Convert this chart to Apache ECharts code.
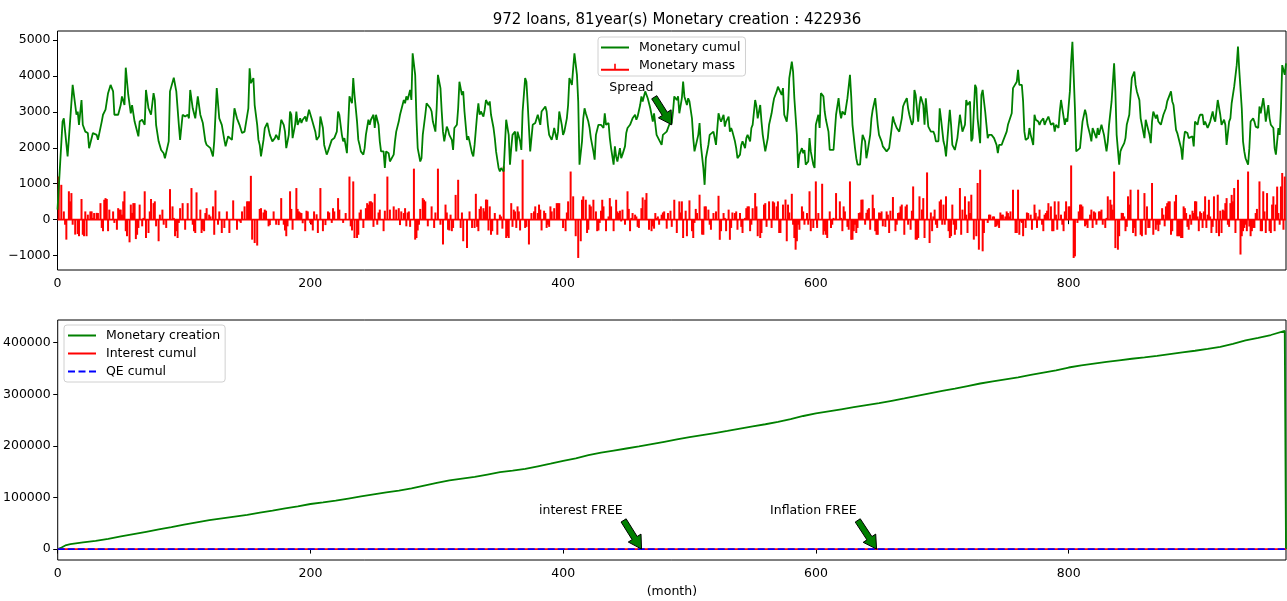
<!DOCTYPE html>
<html><head><meta charset="utf-8">
<script src="https://cdn.jsdelivr.net/npm/echarts@6/dist/echarts.min.js"></script>
<style>html,body{margin:0;padding:0;background:#fff}#c{width:1287px;height:601px}</style>
</head><body><div id="c"></div>
<script>
const chartTitle = '972 loans, 81year(s) Monetary creation : 422936';
const xLabel = '(month)';
const xTicks = [0, 200, 400, 600, 800];
const yTicksTop = [-1000, 0, 1000, 2000, 3000, 4000, 5000];
const yTicksBottom = [0, 100000, 200000, 300000, 400000];

// [month, value]
const monetaryCumul = [[0,280],[4,2730],[5,2820],[8,1760],[12,3750],[15,2920],[16,3010],[17,2640],[19,3330],[20,2640],[22,2450],[24,2410],[25,1990],[28,2410],[31,2360],[32,2220],[35,2730],[36,2920],[38,3060],[40,3520],[42,3750],[44,3570],[45,2920],[48,2920],[50,3190],[51,3430],[53,3190],[54,4230],[56,3470],[58,2960],[59,3190],[61,2730],[64,2320],[65,2730],[67,2780],[69,2640],[70,3610],[72,3100],[74,2920],[76,3520],[77,3330],[78,2640],[80,2180],[82,1940],[84,1850],[85,1710],[88,2180],[89,3570],[92,3950],[94,3570],[96,2640],[97,2220],[99,2920],[101,2870],[103,2920],[104,2820],[105,3610],[107,3100],[109,2820],[111,3430],[113,2920],[115,2690],[117,2180],[118,2080],[121,1990],[123,1760],[124,2180],[126,3660],[128,2820],[130,2640],[132,2220],[133,2040],[135,2320],[138,2220],[140,3100],[142,2820],[144,2640],[146,2410],[148,2450],[151,3100],[152,4210],
[153,3800],[155,3940],[156,3190],[158,2640],[159,2220],[160,2080],[161,1760],[163,2220],[164,2550],[166,2690],[168,2360],[170,2180],[172,2270],[173,2360],[175,2220],[177,2780],[179,2640],[180,2450],[181,1990],[183,2360],[184,3010],[185,2920],[186,2270],[188,2640],[189,3010],[190,2640],[192,2820],[193,2690],[194,2780],[196,2870],[197,2730],[199,3060],[201,2820],[204,2450],[205,2220],[207,2320],[208,2870],[210,2550],[211,2080],[213,1810],[214,1900],[215,1850],[217,2220],[218,2180],[219,2270],[221,2450],[222,3010],[223,2920],[225,2360],[226,2180],[227,2270],[229,1850],[230,2640],[231,3430],[233,3240],[234,3940],[235,3470],[237,2730],[238,2220],[239,2080],[240,1900],[242,1810],[243,1990],[244,2360],[246,2780],[247,2640],[248,2780],[250,2920],[251,2550],[252,2920],[254,2640],[255,2180],[256,1900],[258,1900],[259,1440],[260,1900],[262,1850],[263,1620],[264,1670],[266,1810],[267,2180],[268,2450],[270,2730],[271,2920],[272,2960],[274,3330],[275,3240],[276,3430],[277,3330],[279,3610],[280,3330],[281,4630],[283,4030],[284,2820],[285,1990],[287,1620],[288,1710],[289,2360],[291,2920],[292,3240],[293,3190],[295,3100],[296,3010],[297,2730],[299,2450],[300,3100],[301,4030],[303,3660],[304,3010],[305,2450],[306,2180],[308,2590],[309,2500],[310,2360],[312,2220],[313,1940],
[314,2550],[316,2640],[317,3100],[318,3840],[320,3470],[321,3570],[322,3010],[324,2220],[325,2320],[326,2180],[328,1850],[329,1760],[330,2080],[332,2920],[333,3240],[334,2920],[335,3010],[337,2870],[338,3060],[339,3330],[341,3190],[342,3290],[343,2920],[345,2550],[346,2270],[347,1900],[349,1440],[350,1340],[351,1440],[353,1340],[354,2080],[355,2780],[357,2360],[358,1530],[359,1990],[360,2360],[362,2450],[363,1900],[364,2450],[366,2180],[367,1940],[368,3010],[370,3940],[371,3840],[372,3240],[374,1900],[375,2270],[376,2640],[378,2690],[379,2730],[380,2920],[382,2640],[383,3010],[384,3010],[386,3150],[387,3010],[388,2640],[389,2360],[391,2220],[392,2360],[393,2550],[395,2220],[396,2450],[397,3010],[399,2640],[400,2360],[401,2450],[403,2820],[404,3190],[405,3940],[407,3750],[408,4210],[409,4630],[411,4030],[412,3290],[413,1530],[415,2180],[416,2820],[417,3100],[418,2960],[420,2730],[421,2550],[422,2270],[424,1900],[425,1670],[426,2360],[428,2640],[429,2690],[430,2640],[432,2550],[433,2960],[434,2640],[436,2690],[437,2270],[438,1990],[440,1530],[441,2040],[442,1760],[443,1620],[445,1990],[446,1710],[447,1810],[449,2040],[450,2410],[451,2550],[453,2640],[454,2690],[455,2820],[457,2920],[458,2780],[459,2870],[461,3190],[462,3430],[463,3290],[465,3570],[466,3610],[467,3380],[469,3100],[470,2920],[471,2730],[472,2960],[474,2360],
[475,2410],[476,2220],[478,2080],[479,2360],[480,2410],[482,2450],[483,2500],[484,2640],[486,2690],[487,3010],[488,3430],[490,3330],[491,3430],[492,2960],[494,3380],[495,3840],[496,3430],[498,3190],[499,3380],[500,3290],[502,2820],[503,2270],[504,1900],[505,1900],[507,2360],[508,2690],[509,2080],[511,1440],[512,970],[513,1710],[515,2080],[516,2360],[517,2410],[519,2450],[520,2270],[521,2080],[523,2960],[524,2820],[525,2730],[527,2920],[528,2590],[529,2730],[531,2870],[532,2450],[533,2550],[534,2450],[536,2180],[537,1990],[538,1710],[540,1810],[541,2080],[542,2180],[544,1990],[545,2270],[546,2360],[548,2180],[549,2550],[550,2640],[552,3330],[553,3150],[554,2820],[556,3190],[557,2730],[558,2360],[560,1900],[561,1940],[562,2270],[563,2640],[565,2960],[566,3190],[567,3380],[569,3570],[570,3700],[571,3700],[573,3470],[574,3660],[575,2920],[577,2730],[578,3100],[579,3940],[581,4400],[582,4120],[583,3380],[585,2360],[586,1440],[587,1810],[589,1990],[590,1850],[591,1940],[592,1530],[594,1620],[595,2270],[596,1900],[598,1530],[599,1440],[600,2640],[602,2920],[603,2550],[604,3520],[606,3430],[607,3010],[608,2780],[610,2450],[611,1940],[612,1940],[614,1940],[615,1940],[616,2920],[618,3380],[619,3010],[620,2820],[621,3010],[623,2920],[624,2960],[625,3380],[627,4030],[628,3430],[629,2640],[631,1990],[632,1710],[633,1530],
[635,1530],[636,1990],[637,2360],[639,2180],[640,1710],[641,1900],[643,2360],[644,2820],[645,3060],[647,3380],[648,3010],[649,2640],[650,2360],[652,2180],[653,2040],[654,1990],[656,1900],[657,1850],[658,1990],[660,2550],[661,2870],[662,2730],[664,2550],[665,2550],[666,2450],[668,2820],[669,3150],[670,3240],[672,3380],[673,3100],[674,2920],[676,2640],[677,2730],[678,3610],[679,3470],[681,2730],[682,3190],[683,3430],[685,3190],[686,2640],[687,3380],[689,2590],[690,2640],[691,2450],[693,2450],[694,2360],[695,2180],[697,2180],[698,3100],[699,2820],[701,2180],[702,2040],[703,1760],[705,2640],[706,3060],[707,2640],[708,2080],[710,1940],[711,1900],[712,2270],[714,2920],[715,2920],[716,2450],[718,2640],[719,3330],[720,3190],[722,3290],[723,2180],[724,2270],[726,3750],[727,3660],[728,2820],[730,2130],[731,3470],[732,3610],[734,3010],[735,2640],[736,2270],[737,2360],[739,2360],[740,2410],[741,2270],[743,2080],[744,1850],[745,2080],[747,2080],[748,2180],[749,2270],[751,2450],[752,2640],[753,2690],[755,2960],[756,3660],[757,3610],[759,3840],[760,4170],[761,3750],[763,3750],[764,3290],[765,2450],[766,2220],[768,2270],[769,2550],[770,2360],[772,2080],[773,2920],[774,2780],[776,2730],[777,2640],[778,2730],[780,2820],[781,2640],[782,2730],[784,2870],[785,2920],
[786,2640],[788,2690],[789,2450],[790,2640],[792,2550],[793,3010],[794,3330],[795,3100],[797,2640],[798,2820],[799,2730],[801,3570],[802,4400],[803,4950],[804,4030],[805,3100],[806,1900],[807,1850],[809,1990],[810,2360],[811,2730],[813,3060],[814,2920],[815,2640],[817,2360],[818,2180],[819,2550],[821,2360],[822,2270],[823,2550],[824,2360],[826,2640],[827,2690],[828,2360],[830,1900],[831,2180],[832,2640],[834,3290],[835,3290],[836,4350],[837,3570],[838,2360],[840,1530],[841,1900],[842,1990],[844,2130],[845,2270],[846,2640],[848,2920],[849,3470],[850,3940],[852,4120],[853,3750],[854,3570],[856,3330],[857,2820],[858,2640],[860,2270],[861,2780],[862,2640],[864,2360],[865,2130],[866,2730],[867,3010],[869,2820],[870,2920],[871,2730],[873,2640],[874,2780],[875,2920],[877,3100],[878,3290],[879,3240],[881,3570],[882,3290],[883,3190],[885,2500],[886,2410],[887,2360],[889,1990],[890,1670],[891,2180],[892,2450],[894,2410],[895,2270],[896,2270],[898,2320],[899,2040],[900,2730],[902,2640],[903,2820],[904,2920],[906,2920],[907,2640],[908,2730],[910,2550],[911,2640],[912,2730],[914,3010],[915,2820],[916,2730],[918,3330],[919,3380],[920,2920],[921,2640],[923,2780],[924,2640],[925,2080],[927,2730],[928,2820],[929,3240],[931,3700],[932,3660],[933,4300],[934,4820],[935,4170],[937,3100],[938,2180],[939,1900],[940,1710],[942,1530],[943,1990],[944,2730],[946,2820],[947,2730],[948,2590],[950,2550],[951,3150],[952,2960],[954,3380],[955,3100],[956,2730],[958,3190],[959,2820],[960,2640],[962,2550],[963,1990],[964,1810],[966,2550],[967,2360],[968,3100],[969,4300],[971,4030],[972,4350]];

// Monetary mass stems [month, value] - main reading
const monetaryMass = [[1,1200],[3,970],[7,-555],[9,790],[11,740],[14,-415],[17,-460],[19,575],[21,-460],[26,230],[29,185],[32,185],[34,460],[36,-320],[37,555],[39,575],[41,280],[45,-90],[47,-280],[50,280],[53,790],[55,-460],[57,-630],[60,460],[62,-540],[65,420],[67,-185],[69,790],[72,-370],[74,575],[76,460],[78,-185],[80,-600],[83,280],[86,-230],[89,850],[91,370],[94,-320],[96,-90],[99,460],[101,-280],[103,460],[106,880],[108,-320],[110,760],[113,280],[115,-280],[117,185],[120,140],[123,370],[125,815],[127,-140],[130,-370],[134,230],[136,-370],[139,537],[142,-280],[145,-90],[148,370],[150,510],[152,510],[153,1220],[154,-555],[156,-650],[158,-720],[161,320],[164,280],[167,-185],[171,230],[173,-140],[177,600],[179,-140],[182,-185],[184,790],[186,-280],[189,880],[191,230],[193,185],[196,-320],[198,230],[200,-90],[203,230],[206,-370],[208,880],[210,-320],[214,230],[217,-90],[219,230],[222,600],[223,280],[226,-90],[228,185],[231,1200],[232,-185],[234,1065],[235,-510],[238,-420],[240,280],[242,-230],[245,460],[247,510],[249,480],[251,720],[253,-140],[255,280],[258,-320],[261,1200],[263,280],[266,370],[268,280],[270,320],[272,230],[274,185],[276,-185],[278,230],[282,1420],[283,-555],[284,-510],[286,-140],[290,555],[291,510],[293,-185],[296,370],[298,-230],[301,1420],[303,-140],[305,-690],[307,420],[309,-280],[311,140],[313,-230],[315,690],[317,1110],[319,-230],[321,-600],[324,-790],[326,230],[328,-230],[331,720],[333,-320],[335,370],[338,230],[340,555],[342,370],[344,-320],[346,185],[348,-420],[351,90],[353,1480],[355,-510],[356,-460],[359,460],[361,280],[363,-230],[365,230],[368,1670],[370,-230],[373,-690],[375,185],[378,370],[380,185],[382,280],[386,185],[388,-140],[390,370],[393,320],[395,460],[397,460],[400,-230],[402,-320],[404,510],[406,1340],[408,650],[410,-460],[412,-1065],[414,-600],[415,555],[418,555],[420,-280],[422,370],[424,555],[427,-320],[429,-90],[431,555],[434,-320],[436,90],[438,370],[440,-320],[442,555],[444,185],[447,280],[449,-140],[451,790],[453,-320],[455,185],[458,90],[460,-230],[462,320],[465,555],[466,740],[468,-280],[471,-185],[473,185],[475,90],[478,140],[480,230],[483,185],
[488,555],[490,-370],[492,510],[494,510],[495,-510],[498,-460],[500,537],[502,-320],[504,-90],[506,185],[508,695],[510,-415],[512,370],[515,280],[517,-280],[519,185],[523,665],[525,-320],[527,185],[529,-320],[531,280],[533,-230],[536,185],[538,-280],[540,185],[542,-370],[545,320],[546,370],[548,-320],[550,320],[552,740],[554,-460],[556,-510],[560,460],[563,510],[565,-230],[567,480],[570,510],[572,-370],[574,420],[577,-600],[578,420],[581,720],[582,-140],[584,-835],[585,-600],[587,-280],[589,370],[591,-140],[593,185],[595,790],[598,-230],[600,1065],[602,185],[605,1000],[607,-320],[609,-510],[612,-230],[614,50],[616,740],[619,510],[621,-320],[623,230],[626,-280],[627,1065],[629,-555],[630,-320],[632,-370],[634,185],[636,555],[639,-140],[641,280],[643,-280],[645,695],[647,-320],[649,-420],[651,185],[653,-185],[656,230],[658,-370],[661,630],[663,-320],[665,185],[667,370],[670,-420],[672,420],[675,-280],[677,925],[679,-555],[680,-555],[682,650],[684,280],[686,-510],[688,1315],[690,-650],[692,-320],[694,280],[696,-230],[698,510],[700,-140],[701,420],[703,650],[705,-320],[707,-460],[708,420],[710,-420],[711,-280],[714,880],[716,280],[718,650],[720,-370],[722,185],[723,695],[725,-555],[727,-460],[728,1020],[729,-835],[730,1390],[732,-880],[733,-370],[736,-90],[738,140],[740,90],[743,-185],[745,-230],[747,140],[750,90],[752,185],[754,230],[756,835],[758,-370],[760,835],[761,-420],[763,-90],[766,-230],[768,185],[771,-280],[773,420],[775,-230],[777,280],[780,-320],[782,185],[784,460],[787,-320],[789,510],[791,-280],[794,140],[796,-320],[798,510],[801,370],[802,1510],[804,-1065],[805,-1020],[807,-90],[809,420],[811,370],[813,-185],[815,-230],[818,280],[820,230],[822,-140],[825,230],[826,280],[829,-230],[831,650],[833,555],[835,280],[836,1340],[837,-790],[839,-835],[840,-460],[843,185],[845,-320],[847,650],[849,835],[851,-370],[852,-230],[855,835],[857,-420],[860,740],[861,-420],[863,-230],[866,1020],[867,-420],[869,-280],[872,-140],[874,320],[876,-185],[878,460],[880,510],[882,-320],[884,510],[887,-460],[889,-510],[891,370],[893,185],[895,-280],[897,-140],[899,185],[901,510],[903,-320],[905,185],[908,650],[909,-230],[911,555],[913,-370],[915,650],[918,695],[919,-460],[922,280],[924,460],[926,-140],[928,460],[930,510],[932,-370],[934,1110],[936,-970],[937,-460],[939,-230],[940,-140],[942,1340],[944,-460],[945,-320],[948,185],[951,1065],[953,-320],[954,790],[956,-370],[957,740],[960,-370],[962,650],[963,-320],[966,185],[968,925],[969,1300],[970,-280],[971,1200]];

// Monetary mass stems [month, value] - second, finer reading of the small stems
const monetaryMassExtra = [[2,1200],[5,230],[6,-140],[8,790],[10,510],[12,-140],[13,600],[16,-400],[20,-420],[22,230],[23,-460],[24,140],[27,230],[28,50],[31,190],[35,-230],[38,600],[40,-320],[44,230],[48,320],[49,280],[51,140],[52,510],[54,-320],[58,420],[59,190],[61,460],[63,-420],[64,-230],[68,50],[70,-510],[71,600],[73,230],[77,510],[81,140],[84,-140],[88,850],[92,50],[93,-460],[95,-510],[97,320],[105,880],[107,-140],[109,-370],[112,830],[114,-370],[116,-320],[118,320],[121,90],[124,-420],[126,820],[128,230],[132,-230],[139,-320],[144,-50],[146,230],[151,510],[157,-790],
[160,300],[163,200],[165,250],[168,-150],[175,-150],[180,-300],[181,-460],[185,300],[190,300],[192,200],[194,-100],[197,250],[201,-140],[202,-300],[205,150],[212,-150],[215,200],[218,320],[229,1070],[233,-300],[237,-510],[239,200],[244,320],[246,420],[248,510],[250,-200],[252,710],[254,200],[259,250],[271,-150],[275,320],[277,200],[279,-200],[281,1420],[285,-300],[287,300],[289,600],[299,200],[302,1480],[308,200],[310,-300],[312,-320],[314,690],
[318,1110],[320,200],[322,-740],[330,-230],[332,-200],[334,300],[337,320],[339,560],[341,-300],[343,-420],[350,140],[352,-250],[354,1480],[357,-510],[360,-200],[362,230],[364,370],[366,-300],[371,-200],[377,230],[381,420],[383,-300],[385,250],[387,-230],[389,-200],[391,230],[396,460],[403,200],[411,-1110],[416,650],[419,-370],[421,420],[426,230],[428,-300],[430,250],[432,370],[437,600],[443,230],[445,250],[446,-50],[450,790],[452,300],[454,50],[457,140],[459,-200],[463,620],[470,-320],[472,-250],[474,50],
[476,-140],[479,200],[482,-250],[485,250],[486,-200],[493,200],[497,250],[503,-510],[505,300],[511,-420],[513,370],[516,-140],[521,230],[524,-560],[528,50],[532,-560],[534,200],[537,230],[541,-200],[544,50],[547,370],[549,-140],[553,370],[557,-370],[559,420],[561,-200],[566,510],[569,370],[571,-370],[576,560],[579,200],[583,-510],[586,-140],[590,230],[594,-140],[596,-320],[601,-230],[606,-420],[608,-420],[611,230],[613,-140],[620,50],[622,370],[625,-200],[628,-560],
[631,-140],[633,-230],[635,200],[637,560],[640,190],[642,320],[646,320],[648,-420],[650,200],[652,230],[655,-200],[657,140],[659,250],[664,-140],[666,200],[668,420],[671,370],[673,-140],[676,250],[681,-510],[683,830],[685,600],[689,-600],[691,200],[693,90],[695,-140],[699,560],[702,-140],[704,690],[706,-510],[709,-140],[712,830],[715,-420],[717,600],[719,140],[721,510],[726,970],[731,-880],[734,-740],[737,140],[741,90],[742,-200],[744,-140],[746,200],[748,140],[751,230],[753,90],[757,830],[759,-370],[762,-50],[764,-460],[767,200],[770,140],[774,190],[776,90],[779,-140],[781,140],[783,250],
[786,370],[788,-320],[790,140],[792,510],[795,-140],[797,230],[800,370],[806,-1020],[808,230],[810,420],[814,-140],[817,140],[819,-230],[821,200],[824,230],[827,-140],[830,50],[832,690],[834,420],[838,-600],[842,190],[844,90],[846,-200],[848,420],[850,790],[853,-460],[856,830],[858,-460],[862,370],[864,-230],[868,990],[870,-140],[871,-320],[875,140],[877,370],[879,510],[881,-420],[885,690],[886,-460],[888,-460],[890,-510],[892,320],[894,-200],[896,140],[898,250],[900,510],[902,90],[904,230],[906,-230],[907,230],[910,140],[912,90],[914,-200],[916,650],[917,-370],[920,250],[921,-370],[923,250],[925,600],[927,-200],[929,690],[931,880],[933,690],[935,-970],[938,-320],[941,-320],[943,-190],[946,-230],[947,-230],[949,300],[950,1070],[952,-320],[955,230],[958,690],[959,-320],[961,420],[964,420],[965,920],[967,-140]];

// [month, value]
const monetaryCreation = [[0,0],[3,3000],[6,7000],[10,9500],[20,13000],[30,16000],[40,20000],[50,24500],[60,29000],[70,33500],[80,38000],[90,42500],[100,47500],[110,52000],[120,56000],[130,59500],[140,63000],[150,66500],[160,70500],[170,74500],[180,79000],[190,83000],[200,87400],[210,90500],[220,94000],[230,98000],[240,102000],[250,106000],[260,110000],[270,113500],[280,117500],[290,123000],[300,128500],[310,133000],[320,136500],[330,140000],[340,144500],[350,149000],[360,152000],[370,155500],[380,160500],[390,165500],[400,171000],[410,176000],[420,182000],[430,187000],[440,191000],[450,195000],[460,199000],[470,203500],[480,208000],[490,212500],[500,217000],[510,221000],[520,225000],[530,229000],[540,233500],[550,238000],[560,242000],[570,246500],[580,252000],[590,258000],[600,263000],[610,267000],[620,271000],[630,275000],[640,279000],[650,283000],[660,287500],[670,292000],[680,297000],[690,302000],[700,306500],[710,311000],[720,316000],[730,321000],[740,325000],[750,329000],[760,333000],[770,337500],[780,342000],[790,346500],[800,352000],[810,356000],[820,359500],[830,363000],[840,366000],[850,369000],[860,371500],[870,374500],[880,378000],[890,381500],[900,384500],[910,388000],[920,392000],[930,398000],[940,404500],[950,409500],[960,415000],[971,422936],[972,0]];
const interestCumul = [[0,0],[972,0]];
const qeCumul = [[0,0],[972,0]];

const topAnnotations = [{text:'Spread', xy:[486,2640], xytext:[454,3670]}];
const bottomAnnotations = [{text:'interest FREE', xy:[462,0], xytext:[414,74000]}, {text:'Inflation FREE', xy:[648,0], xytext:[598,74000]}];

// merge the two stem readings (skip duplicates of the same tall stem)
const mainMap = new Map(monetaryMass.map(d => [d[0], d[1]]));
const stems = monetaryMass.concat(monetaryMassExtra.filter(([m, v]) => {
  if (mainMap.has(m)) return false;
  if (Math.abs(v) >= 600) {
    for (const k of [m - 2, m - 1, m + 1, m + 2]) {
      if (mainMap.has(k) && Math.abs(mainMap.get(k)) >= 600 && Math.sign(mainMap.get(k)) === Math.sign(v)) return false;
    }
  }
  return true;
}));

const FONT = 'DejaVu Sans';
const fmt = v => v < 0 ? '\u2212' + Math.abs(v) : String(v);
const mctx = document.createElement('canvas').getContext('2d');
mctx.font = '12.5px "DejaVu Sans"';

function annotationRenderer(list) {
  return function (params, api) {
    const a = list[params.dataIndex];
    const tip = api.coord([api.value(0), api.value(1)]);
    const c = api.coord([api.value(2), api.value(3)]);
    const w = mctx.measureText(a.text).width;
    const tail = [c[0] + w / 2, c[1] + 8];
    const dx = tip[0] - tail[0], dy = tip[1] - tail[1];
    const L = Math.sqrt(dx * dx + dy * dy);
    const ux = dx / L, uy = dy / L, nx = -uy, ny = ux;
    const s0 = [tail[0] + ux * L * 0.05, tail[1] + uy * L * 0.05];
    const hl = 13, hw = 7.5, sw = 3;
    const b = [tip[0] - ux * hl, tip[1] - uy * hl];
    const pts = [
      [s0[0] + nx * sw, s0[1] + ny * sw], [b[0] + nx * sw, b[1] + ny * sw], [b[0] + nx * hw, b[1] + ny * hw],
      tip, [b[0] - nx * hw, b[1] - ny * hw], [b[0] - nx * sw, b[1] - ny * sw], [s0[0] - nx * sw, s0[1] - ny * sw]
    ];
    return { type: 'group', children: [
      { type: 'polygon', shape: { points: pts }, style: { fill: '#008000', stroke: '#000', lineWidth: 1 } },
      { type: 'text', x: c[0], y: c[1], style: { text: a.text, fill: '#000', font: '12.5px "DejaVu Sans"', align: 'center', verticalAlign: 'middle' } }
    ]};
  };
}

const axisCommon = {
  type: 'value', splitLine: { show: false },
  axisLine: { show: false },
  axisTick: { show: true, length: 4.5, lineStyle: { color: '#000', width: 1 } },
  axisLabel: { color: '#000', fontFamily: FONT, fontSize: 12.5, margin: 7, formatter: fmt }
};
const BOX = 'M0,0h0.01v0.01h-0.01z M28,10.5h-0.01v-0.01h0.01z ';
const lineIcon = 'path://' + BOX + 'M0,4.35 H28 V6.15 H0 Z';
const dashIcon = 'path://' + BOX + 'M0,4.35 H7 V6.15 H0 Z M10.5,4.35 H17.5 V6.15 H10.5 Z M21,4.35 H28 V6.15 H21 Z';
const stemIcon = 'path://' + BOX + 'M0,8.6 H28 V10.5 H0 Z M13.2,3.5 H14.8 V9 H13.2 Z';

const chart = echarts.init(document.getElementById('c'), null, { renderer: 'canvas' });
chart.setOption({
  animation: false,
  backgroundColor: '#fff',
  title: { text: chartTitle, left: 672, top: 8, textAlign: 'center',
    textStyle: { fontFamily: FONT, fontSize: 15, fontWeight: 'normal', color: '#000' } },
  grid: [
    { left: 57.5, right: 1, top: 31, height: 239, show: true, borderColor: '#000', borderWidth: 1, backgroundColor: 'transparent' },
    { left: 57.5, right: 1, top: 320, height: 240, show: true, borderColor: '#000', borderWidth: 1, backgroundColor: 'transparent' }
  ],
  xAxis: [
    Object.assign({}, axisCommon, { gridIndex: 0, min: 0, max: 972,
      axisTick: Object.assign({}, axisCommon.axisTick, { customValues: xTicks }),
      axisLabel: Object.assign({}, axisCommon.axisLabel, { customValues: xTicks }) }),
    Object.assign({}, axisCommon, { gridIndex: 1, min: 0, max: 972, name: xLabel, nameLocation: 'middle', nameGap: 25,
      nameTextStyle: { fontFamily: FONT, fontSize: 12.5, color: '#000' },
      axisTick: Object.assign({}, axisCommon.axisTick, { customValues: xTicks }),
      axisLabel: Object.assign({}, axisCommon.axisLabel, { customValues: xTicks }) })
  ],
  yAxis: [
    Object.assign({}, axisCommon, { gridIndex: 0, min: -1400, max: 5250,
      axisTick: Object.assign({}, axisCommon.axisTick, { customValues: yTicksTop }),
      axisLabel: Object.assign({}, axisCommon.axisLabel, { customValues: yTicksTop }) }),
    Object.assign({}, axisCommon, { gridIndex: 1, min: -21147, max: 444083,
      axisTick: Object.assign({}, axisCommon.axisTick, { customValues: yTicksBottom }),
      axisLabel: Object.assign({}, axisCommon.axisLabel, { customValues: yTicksBottom }) })
  ],
  legend: [
    { data: [{ name: 'Monetary cumul', icon: lineIcon }, { name: 'Monetary mass', icon: stemIcon }],
      orient: 'vertical', left: 598, top: 37, itemWidth: 28, itemHeight: 10.5, itemGap: 5,
      padding: [4, 5, 4, 3], borderColor: '#d0d0d0', borderWidth: 1, borderRadius: 3, backgroundColor: 'rgba(255,255,255,0.8)',
      textStyle: { fontFamily: FONT, fontSize: 12.5, color: '#000', padding: [0, 0, 0, 5] } },
    { data: [{ name: 'Monetary creation', icon: lineIcon }, { name: 'Interest cumul', icon: lineIcon }, { name: 'QE cumul', icon: dashIcon }],
      orient: 'vertical', left: 64, top: 325, itemWidth: 28, itemHeight: 10.5, itemGap: 5,
      padding: [4, 5, 4, 4], borderColor: '#d0d0d0', borderWidth: 1, borderRadius: 3, backgroundColor: 'rgba(255,255,255,0.8)',
      textStyle: { fontFamily: FONT, fontSize: 12.5, color: '#000', padding: [0, 0, 0, 5] } }
  ],
  series: [
    { name: 'baseline', type: 'line', xAxisIndex: 0, yAxisIndex: 0, data: [[0, 0], [972, 0]], symbol: 'none',
      lineStyle: { color: '#ff0000', width: 1.8 }, z: 2, silent: true },
    { name: 'Monetary mass', type: 'custom', xAxisIndex: 0, yAxisIndex: 0, data: stems, clip: true,
      itemStyle: { color: '#ff0000' }, z: 2,
      renderItem: function (params, api) {
        const p0 = api.coord([api.value(0), 0]);
        const p1 = api.coord([api.value(0), api.value(1)]);
        return { type: 'line', shape: { x1: p0[0], y1: p0[1], x2: p1[0], y2: p1[1] }, style: { stroke: '#ff0000', lineWidth: 2 } };
      } },
    { name: 'Monetary cumul', type: 'line', xAxisIndex: 0, yAxisIndex: 0, data: monetaryCumul, symbol: 'none',
      lineStyle: { color: '#008000', width: 1.8 }, itemStyle: { color: '#008000' }, z: 3 },
    { name: 'spreadNote', type: 'custom', xAxisIndex: 0, yAxisIndex: 0, clip: false, z: 5,
      data: topAnnotations.map(a => [a.xy[0], a.xy[1], a.xytext[0], a.xytext[1]]),
      renderItem: annotationRenderer(topAnnotations) },
    { name: 'Monetary creation', type: 'line', xAxisIndex: 1, yAxisIndex: 1, data: monetaryCreation, symbol: 'none',
      lineStyle: { color: '#008000', width: 1.8 }, itemStyle: { color: '#008000' }, z: 3 },
    { name: 'Interest cumul', type: 'line', xAxisIndex: 1, yAxisIndex: 1, data: interestCumul, symbol: 'none',
      lineStyle: { color: '#ff0000', width: 1.8 }, itemStyle: { color: '#ff0000' }, z: 3 },
    { name: 'QE cumul', type: 'line', xAxisIndex: 1, yAxisIndex: 1, data: qeCumul, symbol: 'none',
      lineStyle: { color: '#0000ff', width: 1.8, type: [7, 3] }, itemStyle: { color: '#0000ff' }, z: 4 },
    { name: 'freeNotes', type: 'custom', xAxisIndex: 1, yAxisIndex: 1, clip: false, z: 5,
      data: bottomAnnotations.map(a => [a.xy[0], a.xy[1], a.xytext[0], a.xytext[1]]),
      renderItem: annotationRenderer(bottomAnnotations) }
  ]
});
</script></body></html>
